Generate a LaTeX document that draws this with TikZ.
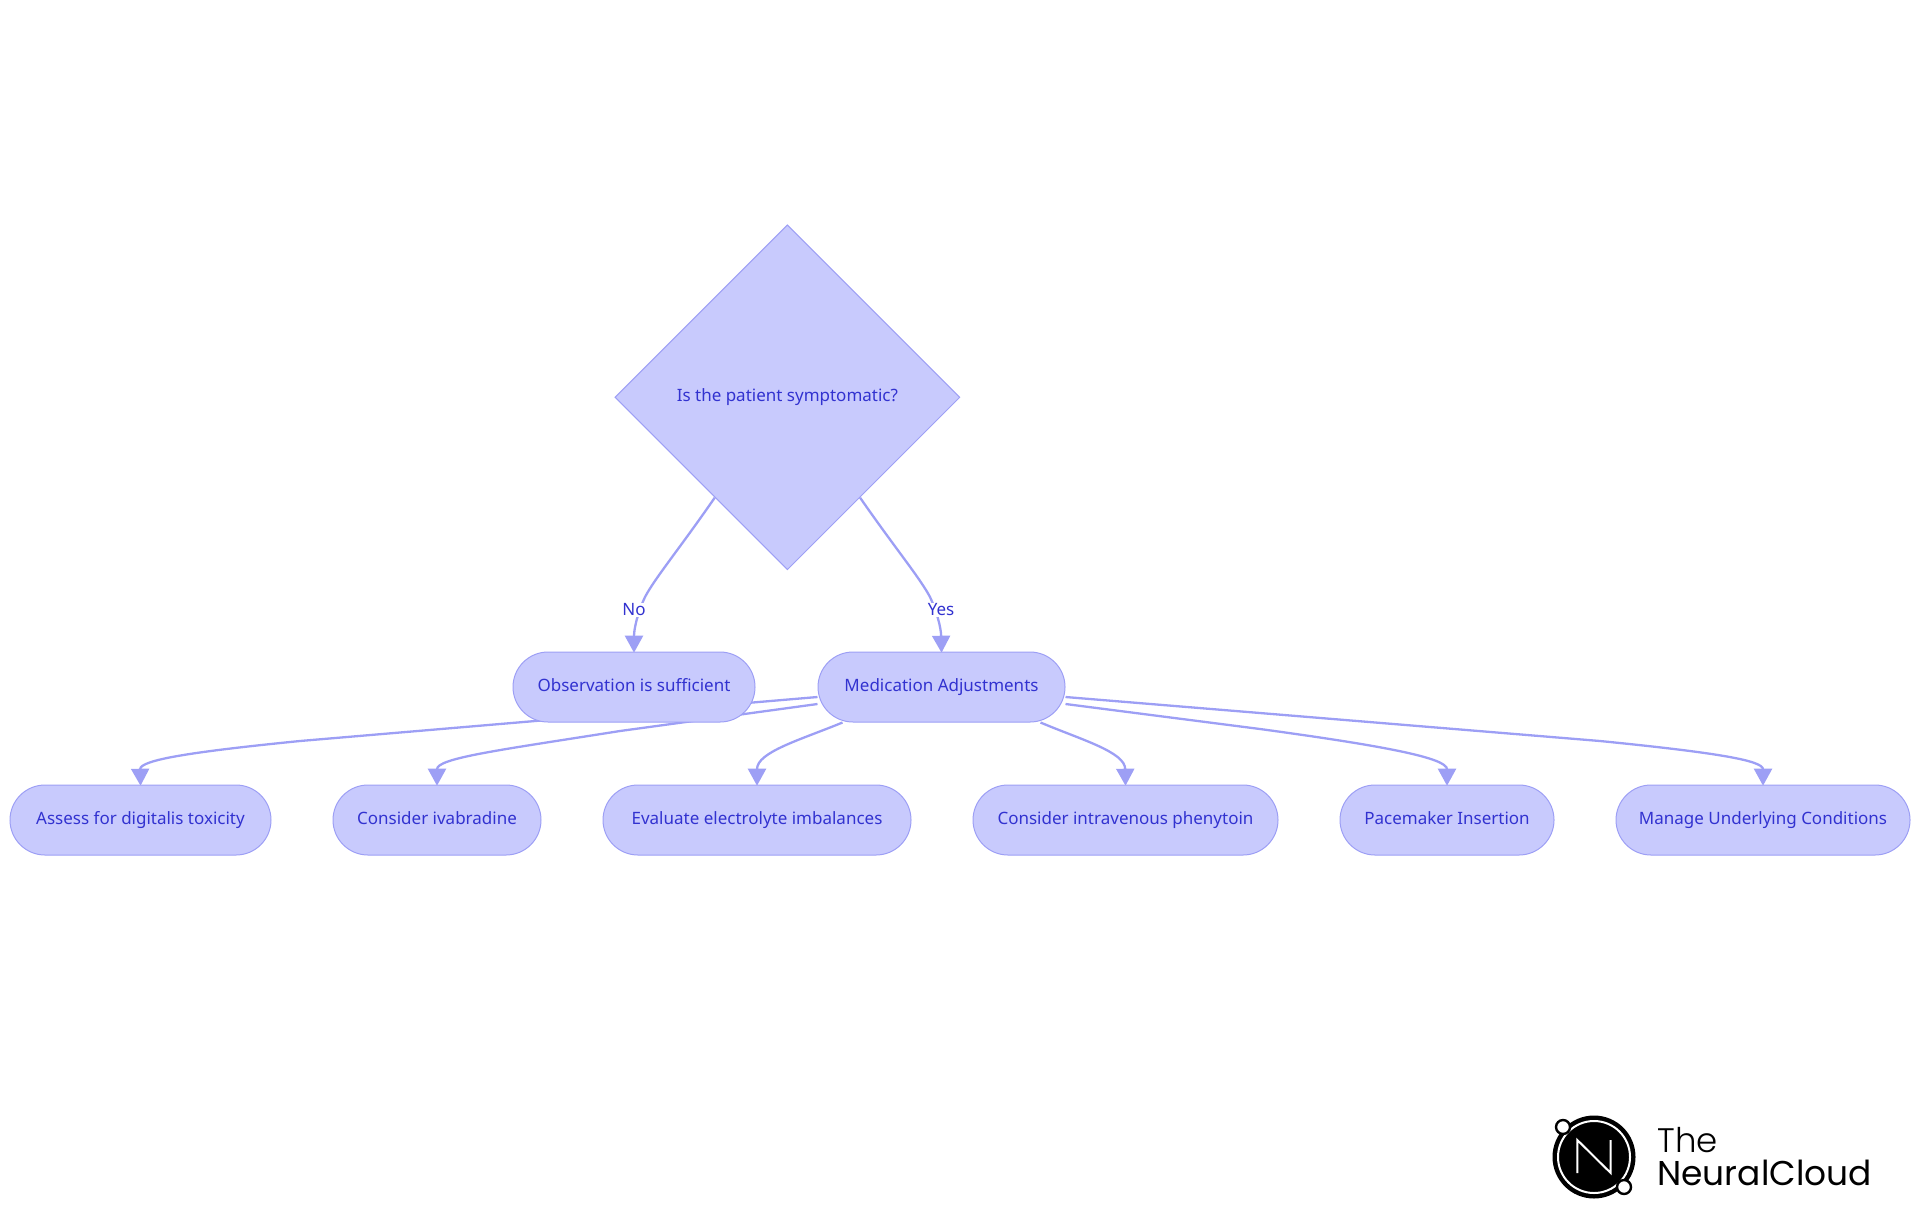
\documentclass[tikz,border=0pt]{standalone}
\usepackage{fontspec}
\setmainfont{Noto Sans}
\newfontfamily\logofont{Poppins Light}
\newfontfamily\logofontb{Poppins}
\usetikzlibrary{shapes.geometric,arrows.meta,calc,backgrounds}
\definecolor{nodefill}{HTML}{C8CAFD}
\definecolor{edgecol}{HTML}{9D9FF5}
\definecolor{txtcol}{HTML}{3232D0}
\tikzset{
  base/.style={draw=edgecol,fill=nodefill,text=txtcol,line width=.5pt,inner sep=0pt,font=\fontsize{8.5}{10}\selectfont},
  pill/.style={base,rectangle,rounded corners=17.5pt,minimum height=35pt,text height=5.9pt,text depth=1.9pt},
  dec/.style={base,diamond,aspect=1,minimum width=172.5pt,minimum height=172.5pt},
  link/.style={draw=edgecol,line width=1.15pt,shorten >=-.6pt,-{Triangle[length=8.5pt,width=9pt,fill=edgecol]}},
  lab/.style={fill=white,text=txtcol,inner sep=.5pt,font=\fontsize{8.5}{10}\selectfont},
  logotxt/.style={anchor=base west,inner sep=0pt,font=\logofont\fontsize{17}{20}\selectfont},
  logotxtb/.style={anchor=base west,inner sep=0pt,font=\logofontb\fontsize{17.2}{20}\selectfont}
}
\begin{document}
\begin{tikzpicture}[x=.5pt,y=-.5pt]
\useasboundingbox (0,0) rectangle (1920,1215);
\node[dec] (q) at (787.4,397.3) {Is the patient symptomatic?};
\node[pill,minimum width=121pt] (obs) at (634,687) {Observation is sufficient};
\node[pill,minimum width=123.5pt] (med) at (941.5,687) {Medication Adjustments};
\node[pill,minimum width=130.5pt] (dig) at (140.5,820) {Assess for digitalis toxicity};
\node[pill,minimum width=104pt] (iva) at (437,820) {Consider ivabradine};
\node[pill,minimum width=154pt] (ele) at (757,820) {Evaluate electrolyte imbalances};
\node[pill,minimum width=152.5pt] (phe) at (1125.5,820) {Consider intravenous phenytoin};
\node[pill,minimum width=107pt] (pac) at (1447,820) {Pacemaker Insertion};
\node[pill,minimum width=147pt] (man) at (1763,820) {Manage Underlying Conditions};
\begin{scope}[on background layer]
\draw[link] ($(q.south)!.42!(q.west)$) .. controls (680,548) and (655,578) .. (645,597) .. controls (638,612) and (634,628) .. (obs.north);
\draw[link] ($(q.south)!.42!(q.east)$) .. controls (895,548) and (920,578) .. (930,597) .. controls (937,612) and (941,628) .. (med.north);
\draw[link] ($(med.west)+(0,10)$) -- (300,741) .. controls (190,752) and (140,760) .. (dig.north);
\draw[link] ($(med.west)+(0,17)$) -- (620,731) .. controls (500,750) and (437,758) .. (iva.north);
\draw[link] ($(med.south west)+(25,0)$) .. controls (800,740) and (757,752) .. (ele.north);
\draw[link] ($(med.south east)+(-25,0)$) .. controls (1082,740) and (1125,752) .. (phe.north);
\draw[link] ($(med.east)+(0,17)$) -- (1260,729) .. controls (1385,746) and (1447,758) .. (pac.north);
\draw[link] ($(med.east)+(0,10)$) -- (1600,741) .. controls (1710,752) and (1763,760) .. (man.north);
\end{scope}
\node[lab] (lno) at (634,610) {No};
\node[lab] (lyes) at (941,610) {Yes};
% logo
\fill[black] (1594,1157) circle[radius=41.5] coordinate (lc);
\draw[white,line width=1pt] (lc) circle[radius=36];
\draw[white,line width=1pt,line join=miter] (1577.3,1173) -- (1577.3,1140) -- (1610.7,1173) -- (1610.7,1140);
\draw[black,fill=white,line width=1.2pt] (1563,1127) circle[radius=7];
\draw[black,fill=white,line width=1.2pt] (1624,1187) circle[radius=7];
\node[logotxt] (lt1) at (1657,1152) {The};
\node[logotxtb] (lt2) at (1657,1185) {NeuralCloud};
\end{tikzpicture}
\end{document}
